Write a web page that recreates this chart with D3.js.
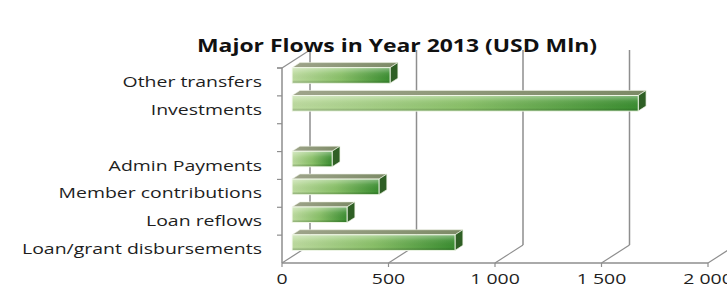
<!DOCTYPE html>
<html><head><meta charset="utf-8">
<script src="https://cdn.jsdelivr.net/npm/d3@7"></script>
<style>html,body{margin:0;padding:0;background:#fff;}svg{display:block;}</style>
</head><body>
<svg id="chart" width="727" height="287"></svg>
<script>
const title = "Major Flows in Year 2013 (USD Mln)";
const categories = ["Loan/grant disbursements","Loan reflows","Member contributions","Admin Payments","","Investments","Other transfers"];
const values = [765, 258, 408, 188, null, 1625, 460];
const tickValues = [0, 500, 1000, 1500, 2000];
const tickLabels = ["0","500","1 000","1 500","2 000"];

const svg = d3.select("#chart");
const x = d3.scaleLinear().domain([0,2000]).range([282,708]);
const y = d3.scaleBand().domain(categories).range([263,68]).paddingInner(0.44).paddingOuter(0.22);
const yb = d3.scaleBand().domain(categories).range([263,68]);
const D = {dx:28, dy:-18};
const f0 = 0.36, f1 = 0.64;
const gridCol = "#8e8e8e";

const defs = svg.append("defs");
const gF = defs.append("linearGradient").attr("id","front").attr("x1","0").attr("x2","1").attr("y1","0").attr("y2","0");
gF.append("stop").attr("offset","0").attr("stop-color","#bddb9f");
gF.append("stop").attr("offset","0.5").attr("stop-color","#89c068");
gF.append("stop").attr("offset","1").attr("stop-color","#3a8d30");
const gV = defs.append("linearGradient").attr("id","frontV").attr("x1","0").attr("x2","0").attr("y1","0").attr("y2","1");
gV.append("stop").attr("offset","0").attr("stop-color","#ffffff").attr("stop-opacity",0.4);
gV.append("stop").attr("offset","0.35").attr("stop-color","#ffffff").attr("stop-opacity",0.08);
gV.append("stop").attr("offset","0.8").attr("stop-color","#000000").attr("stop-opacity",0.0);
gV.append("stop").attr("offset","1").attr("stop-color","#1a4a10").attr("stop-opacity",0.3);
const gT = defs.append("linearGradient").attr("id","top").attr("x1","0").attr("x2","1").attr("y1","0").attr("y2","0");
gT.append("stop").attr("offset","0").attr("stop-color","#9ea48a");
gT.append("stop").attr("offset","1").attr("stop-color","#7c8a66");

// back wall gridlines
svg.append("g").selectAll("line").data(tickValues).join("line")
  .attr("x1", d=>x(d)+D.dx).attr("x2", d=>x(d)+D.dx)
  .attr("y1", 68+D.dy).attr("y2", 263+D.dy)
  .attr("stroke", gridCol).attr("stroke-width",1.5);
// floor diagonals
svg.append("g").selectAll("line").data(tickValues).join("line")
  .attr("x1", d=>x(d)).attr("x2", d=>x(d)+D.dx)
  .attr("y1", 263).attr("y2", 263+D.dy)
  .attr("stroke", gridCol).attr("stroke-width",1.2);
// left wall
svg.append("line").attr("x1",x(0)).attr("x2",x(0)).attr("y1",68).attr("y2",263).attr("stroke",gridCol).attr("stroke-width",1.5);
svg.append("line").attr("x1",x(0)).attr("x2",x(0)+D.dx).attr("y1",68).attr("y2",68+D.dy).attr("stroke",gridCol).attr("stroke-width",1.2);
const bounds = categories.map(c=>yb(c)).concat([68]);
svg.append("g").selectAll("line").data(bounds).join("line")
  .attr("x1",x(0)-5).attr("x2",x(0)).attr("y1",d=>d).attr("y2",d=>d)
  .attr("stroke",gridCol).attr("stroke-width",1.2);
// x axis line
svg.append("line").attr("x1",x(0)).attr("x2",x(2000)).attr("y1",263).attr("y2",263).attr("stroke",gridCol).attr("stroke-width",1.5);
svg.append("g").selectAll("line").data(tickValues).join("line")
  .attr("x1",d=>x(d)).attr("x2",d=>x(d)).attr("y1",263).attr("y2",267)
  .attr("stroke",gridCol).attr("stroke-width",1.2);

// bars
const data = categories.map((c,i)=>({c, v:values[i]})).filter(d=>d.v!=null);
const bars = svg.append("g").selectAll("g").data(data).join("g");
bars.each(function(d){
  const g = d3.select(this);
  const x0 = x(0)+D.dx*f0, x1 = x(d.v)+D.dx*f0;
  const yt = y(d.c)+D.dy*f0, h = y.bandwidth();
  const ddx = D.dx*(f1-f0), ddy = D.dy*(f1-f0);
  // top face
  g.append("path").attr("d",`M${x0},${yt}L${x0+ddx},${yt+ddy}L${x1+ddx},${yt+ddy}L${x1},${yt}Z`)
    .attr("fill","url(#top)").attr("stroke","#eef4e4").attr("stroke-width",0.6);
  // side face
  g.append("path").attr("d",`M${x1},${yt}L${x1+ddx},${yt+ddy}L${x1+ddx},${yt+ddy+h}L${x1},${yt+h}Z`)
    .attr("fill","#2f5f25").attr("stroke","#eef4e4").attr("stroke-width",0.7);
  // front face
  g.append("rect").attr("x",x0).attr("y",yt).attr("width",x1-x0).attr("height",h).attr("fill","url(#front)");
  g.append("rect").attr("x",x0).attr("y",yt).attr("width",x1-x0).attr("height",h).attr("fill","url(#frontV)")
    .attr("stroke","#f4faec").attr("stroke-width",0.9);
});

// category labels
const labels = svg.append("g").selectAll("text").data(categories.filter(c=>c)).join("text")
  .attr("x",262).attr("y",d=>yb(d)+yb.bandwidth()/2+5)
  .attr("text-anchor","end").attr("font-family","Open Sans").attr("font-size",14)
  .attr("fill","#1e1e1e").text(d=>d);
// stretch to match wide lettering
const ref = labels.filter(d=>d==="Loan/grant disbursements").node().getComputedTextLength();
const k = 240/ref;
labels.each(function(){ const w=this.getComputedTextLength(); d3.select(this).attr("textLength",w*k).attr("lengthAdjust","spacingAndGlyphs"); });

// tick labels
const tl = svg.append("g").selectAll("text").data(tickValues).join("text")
  .attr("x",d=>x(d)).attr("y",284).attr("text-anchor","middle")
  .attr("font-family","Open Sans").attr("font-size",14).attr("fill","#1e1e1e")
  .text((d,i)=>tickLabels[i]);
tl.each(function(){ const w=this.getComputedTextLength(); d3.select(this).attr("textLength",w*k).attr("lengthAdjust","spacingAndGlyphs"); });

// title
const t = svg.append("text").attr("x",397).attr("y",52).attr("text-anchor","middle")
  .attr("font-family","Open Sans").attr("font-weight","bold").attr("font-size",17).attr("fill","#111").text(title);
t.attr("textLength",400).attr("lengthAdjust","spacingAndGlyphs");
</script>
</body></html>
